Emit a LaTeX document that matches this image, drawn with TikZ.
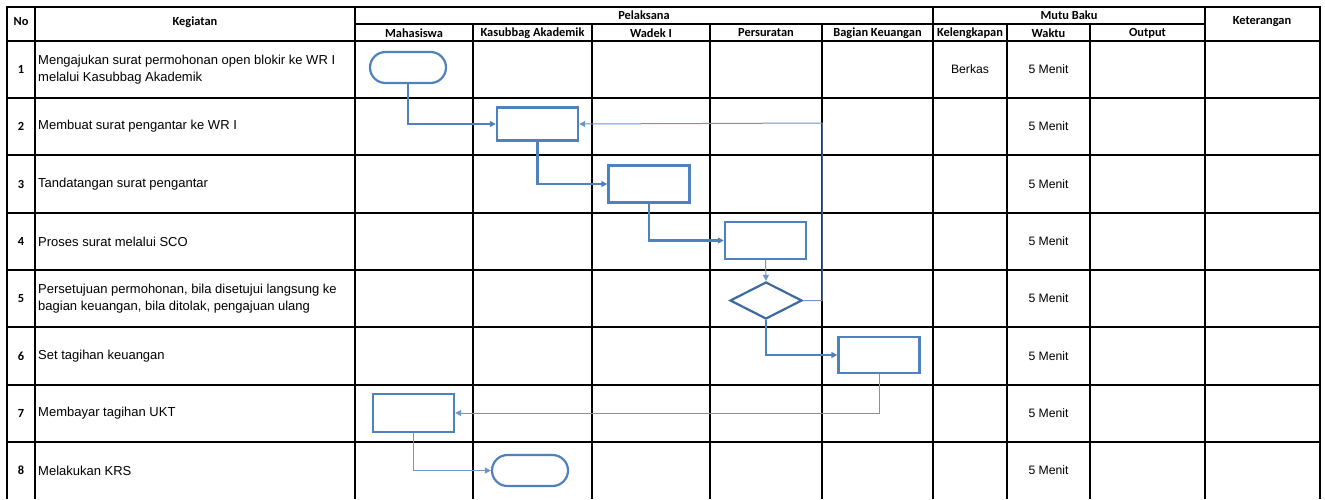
\documentclass[tikz,border=0pt]{standalone}
\usepackage{fontspec}
\setmainfont{Liberation Sans}
\newfontfamily\hdr{Carlito}
\usetikzlibrary{shapes.geometric,shapes.misc,arrows.meta}
\definecolor{fblue}{HTML}{4F81BD}
\definecolor{dblue}{HTML}{3E6A9E}
\definecolor{lblue}{HTML}{7096C8}
\tikzset{
  grid/.style={black,line width=1.4pt},
  hd/.style={font=\hdr\bfseries\fontsize{12.4}{14}\selectfont,inner sep=0pt},
  tx/.style={font=\fontsize{13}{17}\selectfont,inner sep=0pt,align=left,anchor=west},
  ct/.style={font=\fontsize{12.2}{14}\selectfont,inner sep=0pt},
  nm/.style={font=\hdr\bfseries\fontsize{12.4}{14}\selectfont,inner sep=0pt},
  procbox/.style={draw=fblue,line width=2.4pt,minimum width=81pt,minimum height=33pt,inner sep=0pt},
  termbox/.style={draw=fblue,line width=2.2pt,rounded rectangle,minimum width=76pt,minimum height=31pt,inner sep=0pt},
  decbox/.style={draw=dblue,line width=2.2pt,diamond,minimum width=72pt,minimum height=37pt,inner sep=0pt},
  thickc/.style={fblue,line width=2.2pt,-{Triangle[length=6pt,width=6pt]}},
  thinc/.style={lblue,line width=1pt,-{Triangle[length=6pt,width=6pt]}},
}
\begin{document}
\begin{tikzpicture}[x=1pt,y=-1pt]
\useasboundingbox (0,0) rectangle (1325,499);
\fill[white] (0,0) rectangle (1325,499);
% grid
\draw[grid] (7,499) -- (7,7) -- (1320,7) -- (1320,499);
\draw[grid] (35,7) -- (35,499);
\draw[grid] (355,7) -- (355,499);
\draw[grid] (933,7) -- (933,499);
\draw[grid] (1205,7) -- (1205,499);
\foreach \x in {473,592,710,822,1007,1090} \draw[grid] (\x,24) -- (\x,499);
\draw[grid] (355,24) -- (1205,24);
\foreach \y in {41,98,155,213,270,327,385,442} \draw[grid] (7,\y) -- (1320,\y);
% header
\node[hd] (hNo) at (21,22) {No};
\node[hd] (hKeg) at (195,22) {Kegiatan};
\node[hd] (hPel) at (644,15.5) {Pelaksana};
\node[hd] (hMutu) at (1069,15.5) {Mutu Baku};
\node[hd] (hKet) at (1262,22) {Keterangan};
\node[hd] (hMah) at (414,33) {Mahasiswa};
\node[hd] (hKas) at (532.5,33) {Kasubbag Akademik};
\node[hd] (hWad) at (651,33) {Wadek I};
\node[hd] (hPer) at (766,33) {Persuratan};
\node[hd] (hBag) at (877.5,33) {Bagian Keuangan};
\node[hd] (hKel) at (970,33) {Kelengkapan};
\node[hd] (hWak) at (1048.5,33) {Waktu};
\node[hd] (hOut) at (1147.5,33) {Output};
% rows
\foreach \n/\y in {1/69.5,2/126.5,3/184,4/241.5,5/298.5,6/356,7/413.5,8/470.5}{
  \node[nm] (no\n) at (21,\y) {\n};
  \node[ct] (wk\n) at (1048.5,\y) {5 Menit};
}
\node[tx] (k1) at (38,69.5) {Mengajukan surat permohonan open blokir ke WR I\\melalui Kasubbag Akademik};
\node[tx] (k2) at (38,126.5) {Membuat surat pengantar ke WR I};
\node[tx] (k3) at (38,184) {Tandatangan surat pengantar};
\node[tx] (k4) at (38,241.5) {Proses surat melalui SCO};
\node[tx] (k5) at (38,298.5) {Persetujuan permohonan, bila disetujui langsung ke\\bagian keuangan, bila ditolak, pengajuan ulang};
\node[tx] (k6) at (38,356) {Set tagihan keuangan};
\node[tx] (k7) at (38,413.5) {Membayar tagihan UKT};
\node[tx] (k8) at (38,470.5) {Melakukan KRS};
\node[ct] (berkas) at (970,69.5) {Berkas};
% flow shapes
\node[termbox] (t1) at (408,67.5) {};
\node[procbox] (r2) at (537.5,124) {};
\node[procbox,minimum height=37pt] (r3) at (649,184) {};
\node[procbox,minimum height=37pt] (r4) at (765.5,240.5) {};
\node[decbox] (d5) at (766,300.5) {};
\node[procbox,minimum height=36pt] (r6) at (879,355) {};
\node[procbox,minimum height=38pt] (r7) at (413.5,413) {};
\node[termbox] (t8) at (530,470.5) {};
\coordinate (c1) at (822,123);
% connectors
\draw[thickc] (t1.south) |- (r2.west);
\draw[thickc] (r2.south) |- (r3.west);
\draw[thickc] (r3.south) |- (r4.west);
\draw[thinc] (r4.south) -- (d5.north);
\draw[thinc] (d5.east) -| (c1) -- (r2.east);
\draw[thickc] (d5.south) |- (r6.west);
\draw[thinc] (r6.south) |- (r7.east);
\draw[thinc] (r7.south) |- (t8.west);
\end{tikzpicture}
\end{document}
